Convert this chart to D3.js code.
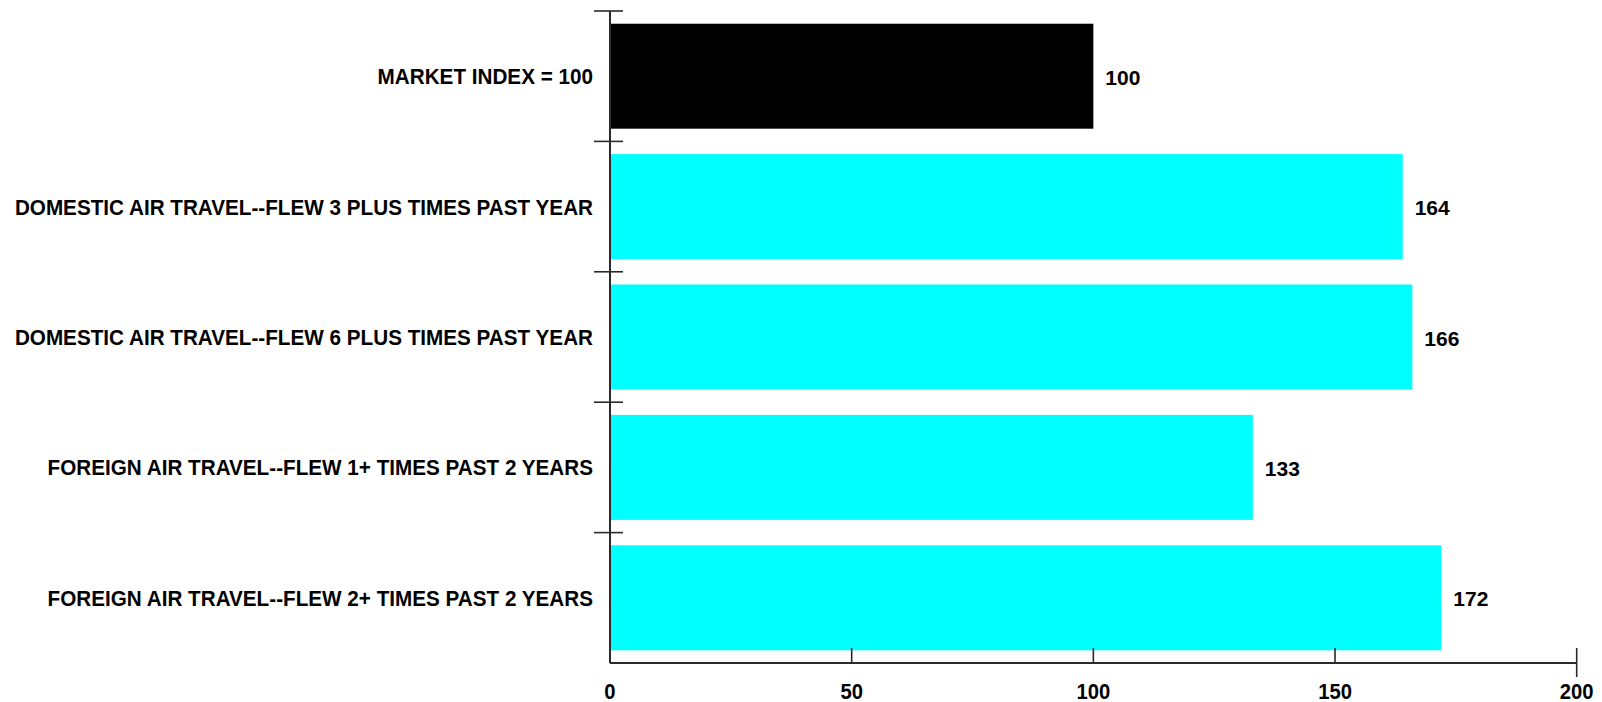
<!DOCTYPE html>
<html>
<head>
<meta charset="utf-8">
<script src="https://cdn.jsdelivr.net/npm/d3@7"></script>
<style>
  html, body { margin: 0; padding: 0; background: #fff; }
  svg { display: block; }
  text { font-family: "Liberation Sans", Arial, Helvetica, sans-serif; font-weight: bold; fill: #000; }
</style>
</head>
<body>
<svg id="chart" width="1602" height="702"></svg>
<script>
// Index values per audience segment (market = 100)
const categories = [
  "MARKET INDEX = 100",
  "DOMESTIC AIR TRAVEL--FLEW 3 PLUS TIMES PAST YEAR",
  "DOMESTIC AIR TRAVEL--FLEW 6 PLUS TIMES PAST YEAR",
  "FOREIGN AIR TRAVEL--FLEW 1+ TIMES PAST 2 YEARS",
  "FOREIGN AIR TRAVEL--FLEW 2+ TIMES PAST 2 YEARS"
];
const indexValues = [100, 164, 166, 133, 172];
const barColors = ["#000000", "#00ffff", "#00ffff", "#00ffff", "#00ffff"];
const xTickValues = [0, 50, 100, 150, 200];

const svg = d3.select("#chart");
const plotLeft = 610, plotRight = 1576.7, plotTop = 11, plotBottom = 663;

const x = d3.scaleLinear().domain([0, 200]).range([plotLeft, plotRight]);
const y = d3.scaleBand()
  .domain(categories)
  .range([plotTop, plotBottom])
  .paddingInner(0.195)
  .paddingOuter(0.0975);

const axisColor = "#2a2a2a";

// bars
svg.append("g").selectAll("rect")
  .data(categories)
  .join("rect")
  .attr("x", x(0))
  .attr("y", d => y(d))
  .attr("width", (d, i) => x(indexValues[i]) - x(0))
  .attr("height", y.bandwidth())
  .attr("fill", (d, i) => barColors[i]);

// value labels at bar ends
svg.append("g").selectAll("text")
  .data(categories)
  .join("text")
  .attr("x", (d, i) => x(indexValues[i]) + 12)
  .attr("y", d => y(d) + y.bandwidth() / 2 + 1)
  .attr("dy", "0.36em")
  .attr("font-size", 21)
  .text((d, i) => indexValues[i]);

// category labels, condensed like the original typeface
svg.append("g").selectAll("text")
  .data(categories)
  .join("text")
  .attr("transform", d => `translate(${plotLeft - 17},${y(d) + y.bandwidth() / 2}) scale(0.94,1)`)
  .attr("text-anchor", "end")
  .attr("dy", "0.36em")
  .attr("font-size", 22)
  .text(d => d);

// vertical axis line with ticks on category boundaries
const boundaries = d3.range(categories.length).map(i => plotTop + i * y.step());
svg.append("line")
  .attr("x1", plotLeft).attr("x2", plotLeft)
  .attr("y1", plotTop).attr("y2", plotBottom)
  .attr("stroke", axisColor).attr("stroke-width", 2);
svg.append("g").selectAll("line")
  .data(boundaries)
  .join("line")
  .attr("x1", plotLeft - 16).attr("x2", plotLeft + 13)
  .attr("y1", d => d).attr("y2", d => d)
  .attr("stroke", axisColor).attr("stroke-width", 1.6);

// horizontal value axis
svg.append("line")
  .attr("x1", plotLeft).attr("x2", plotRight)
  .attr("y1", plotBottom).attr("y2", plotBottom)
  .attr("stroke", axisColor).attr("stroke-width", 2);
svg.append("g").selectAll("line")
  .data(xTickValues.filter(v => v > 0))
  .join("line")
  .attr("x1", d => x(d)).attr("x2", d => x(d))
  .attr("y1", plotBottom - 15)
  .attr("y2", d => d === 200 ? plotBottom + 14 : plotBottom)
  .attr("stroke", axisColor).attr("stroke-width", 1.6);
svg.append("g").selectAll("text")
  .data(xTickValues)
  .join("text")
  .attr("transform", d => `translate(${x(d)},691) scale(0.92,1)`)
  .attr("dy", "0.36em")
  .attr("text-anchor", "middle")
  .attr("font-size", 22)
  .text(d => d);
</script>
</body>
</html>
